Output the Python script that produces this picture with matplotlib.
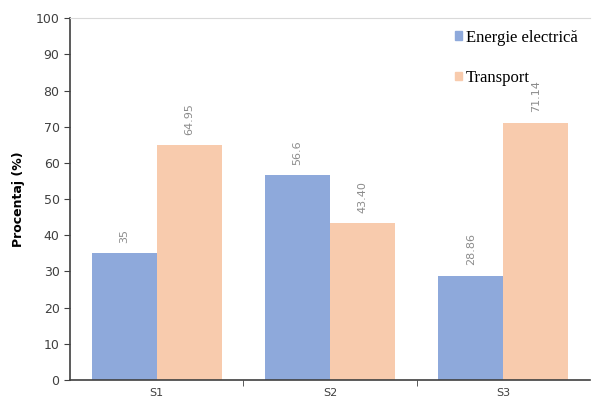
import numpy as np
from matplotlib import pyplot as plt
from matplotlib.patches import Patch

categories = ["S1", "S2", "S3"]
energie = [35, 56.6, 28.86]
transport = [64.95, 43.40, 71.14]
energie_labels = ["35", "56.6", "28.86"]
transport_labels = ["64.95", "43.40", "71.14"]

blue = "#8EA9DB"
orange = "#F8CBAD"

fig = plt.figure(figsize=(5.96, 4.03), dpi=100)
ax = fig.add_axes([0.1174, 0.057, 0.8726, 0.898])

x = np.arange(len(categories))
w = 0.375
b1 = ax.bar(x - w / 2, energie, w, color=blue)
b2 = ax.bar(x + w / 2, transport, w, color=orange)

# value labels, rotated, above bars
for bars, labels in [(b1, energie_labels), (b2, transport_labels)]:
    for bar, lab in zip(bars, labels):
        ax.text(bar.get_x() + bar.get_width() / 2, bar.get_height() + 2.8, lab,
                rotation=90, ha="center", va="bottom", fontsize=8, color="#8c8c8c")

ax.set_xlim(-0.5, 2.5)
ax.set_ylim(0, 100)
ax.set_yticks(range(0, 101, 10))
ax.set_xticks(x)
ax.set_xticklabels(categories, fontsize=8, color="#404040")
ax.set_xticks([0.5, 1.5], minor=True)
ax.tick_params(axis="x", which="major", length=0, pad=6)
ax.tick_params(axis="x", which="minor", length=4, direction="out", color="#404040")
ax.tick_params(axis="y", length=4, direction="out", labelsize=9, labelcolor="#404040", color="#404040")
ax.set_ylabel("Procentaj (%)", fontsize=9, fontweight="bold", labelpad=8)

for s in ["left", "bottom"]:
    ax.spines[s].set_color("#404040")
    ax.spines[s].set_linewidth(1.2)
ax.spines["right"].set_visible(False)
ax.spines["top"].set_color("#d9d9d9")

handles = [Patch(color=blue), Patch(color=orange)]
ax.legend(handles, ["Energie electrică", "Transport"], loc="upper left",
          bbox_to_anchor=(0.712, 1.01), frameon=False, prop={"family": "Liberation Serif", "size": 12},
          handlelength=0.4, handleheight=0.4, handletextpad=0.25, labelspacing=1.45)

fig.savefig("out.png", dpi=100)
plt.close()
